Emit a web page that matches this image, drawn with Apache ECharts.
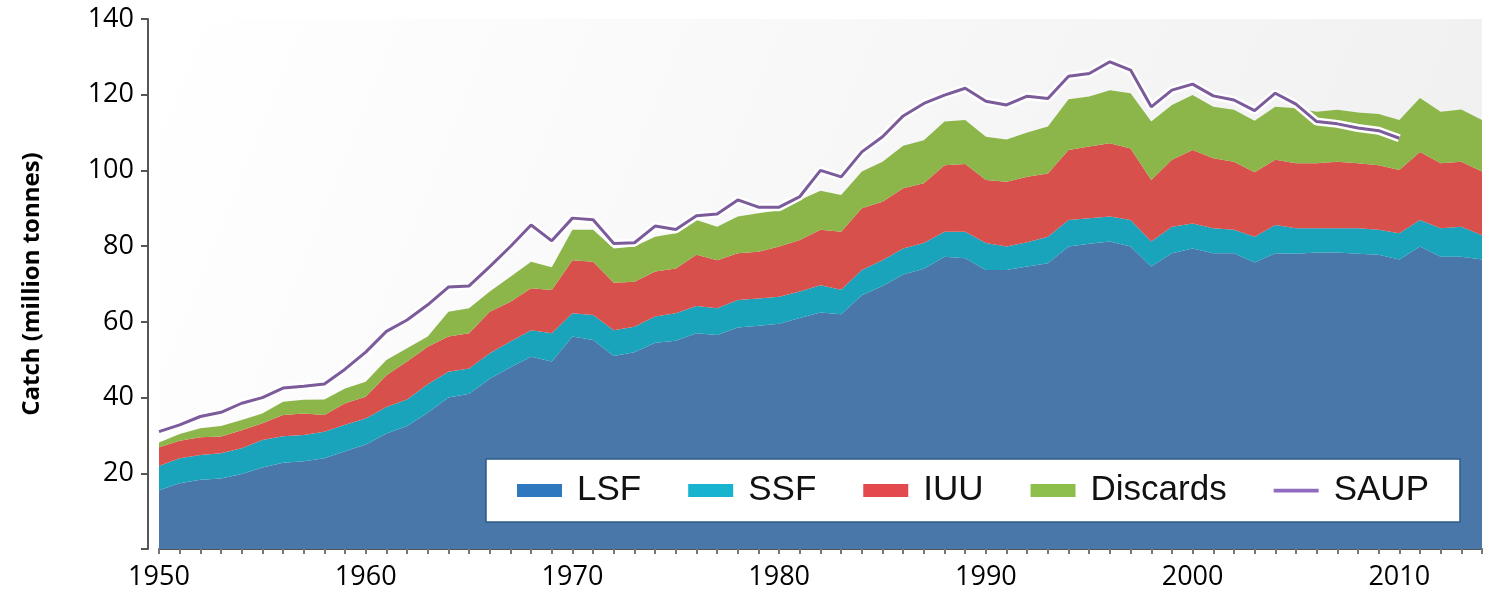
<!DOCTYPE html>
<html>
<head>
<meta charset="utf-8">
<script src="https://cdn.jsdelivr.net/npm/echarts@6/dist/echarts.min.js"></script>
<style>
  html, body { margin: 0; padding: 0; background: #fff; }
  #main { width: 1485px; height: 595px; }
</style>
</head>
<body>
<div id="main"></div>
<script>
// years 1950 - 2014
var years = [];
for (var y = 1950; y <= 2014; y++) years.push(String(y));

// million tonnes
var lsf = [15.5, 17.4, 18.3, 18.6, 19.8, 21.5, 22.8, 23.2, 24.0, 25.8,
           27.6, 30.5, 32.5, 36.0, 40.0, 41.0, 45.0, 48.0, 50.8, 49.5,
           56.1, 55.2, 51.0, 52.0, 54.5, 55.0, 57.0, 56.5, 58.5, 59.0,
           59.5, 61.0, 62.5, 62.0, 67.0, 69.5, 72.5, 74.0, 77.2, 76.8,
           73.7, 73.7, 74.6, 75.5, 79.9, 80.6, 81.2, 79.9, 74.6, 78.1,
           79.4, 78.1, 78.1, 75.7, 78.1, 78.0, 78.3, 78.3, 78.0, 77.7,
           76.5, 79.9, 77.2, 77.2, 76.5];
var ssf = [6.4, 6.6, 6.5, 6.7, 6.8, 7.3, 7.0, 6.9, 7.0, 7.0,
           6.9, 7.0, 7.0, 7.5, 6.8, 6.7, 6.7, 6.8, 7.0, 7.5,
           6.2, 6.6, 6.8, 6.7, 6.9, 7.3, 7.2, 7.1, 7.3, 7.2,
           7.1, 7.0, 7.2, 6.5, 6.7, 6.8, 6.9, 6.8, 6.6, 7.0,
           7.1, 6.2, 6.4, 7.0, 7.0, 6.8, 6.6, 7.0, 6.6, 7.0,
           6.6, 6.6, 6.2, 6.8, 7.5, 6.7, 6.4, 6.4, 6.7, 6.6,
           6.9, 7.0, 7.5, 7.9, 6.4];
var iuu = [5.0, 4.6, 4.7, 4.4, 4.8, 4.4, 5.6, 5.7, 4.4, 5.7,
           5.7, 8.4, 10.0, 9.9, 9.3, 9.3, 11.0, 10.5, 11.1, 11.4,
           14.0, 14.1, 12.5, 11.9, 11.9, 11.8, 13.5, 12.7, 12.3, 12.3,
           13.3, 13.6, 14.6, 15.3, 16.3, 15.4, 15.9, 15.8, 17.6, 17.9,
           16.7, 17.1, 17.3, 16.7, 18.5, 18.9, 19.4, 18.9, 16.3, 17.7,
           19.4, 18.5, 18.0, 17.0, 17.2, 17.2, 17.2, 17.6, 17.2, 17.1,
           16.7, 18.0, 17.2, 17.2, 16.8];
var discards = [1.2, 1.8, 2.4, 2.8, 2.7, 2.6, 3.5, 3.6, 4.1, 3.9,
                4.0, 4.0, 3.5, 2.7, 6.6, 6.6, 5.3, 6.6, 7.0, 6.0,
                8.0, 8.4, 9.1, 9.3, 9.2, 9.3, 9.2, 8.8, 9.7, 10.2,
                9.6, 10.6, 10.3, 9.7, 9.7, 10.6, 11.2, 11.4, 11.5, 11.6,
                11.4, 11.2, 11.7, 12.4, 13.4, 13.2, 14.0, 14.6, 15.4, 14.5,
                14.5, 13.6, 13.7, 13.6, 14.0, 14.5, 13.6, 13.7, 13.4, 13.5,
                13.2, 14.2, 13.6, 13.8, 13.6];
// SAUP reconstructed catch, 1950 - 2010
var saup = [31.0, 32.8, 35.0, 36.1, 38.5, 40.0, 42.5, 43.0, 43.6, 47.5,
            52.0, 57.5, 60.5, 64.5, 69.2, 69.5, 74.6, 79.9, 85.6, 81.4,
            87.4, 87.0, 80.7, 80.9, 85.3, 84.4, 88.0, 88.5, 92.2, 90.3,
            90.3, 93.1, 100.0, 98.3, 104.9, 108.9, 114.4, 117.7, 119.9, 121.7,
            118.3, 117.3, 119.6, 119.0, 124.9, 125.6, 128.7, 126.5, 116.8, 121.2,
            122.8, 119.7, 118.6, 115.8, 120.4, 117.5, 112.9, 112.3, 111.2, 110.5,
            108.5];

var yTicks = [0, 20, 40, 60, 80, 100, 120, 140];

var chart = echarts.init(document.getElementById('main'));

function area(name, data, color) {
  return {
    name: name,
    type: 'line',
    stack: 'catch',
    data: data,
    symbol: 'none',
    lineStyle: { width: 0 },
    areaStyle: { color: color, opacity: 1 },
    itemStyle: { color: color },
    z: 2
  };
}

var option = {
  animation: false,
  backgroundColor: '#ffffff',
  textStyle: { fontFamily: 'Open Sans' },
  grid: {
    left: 159, right: 3, top: 19, bottom: 46,
    show: true,
    borderWidth: 0,
    backgroundColor: new echarts.graphic.LinearGradient(0, 0, 1, 1, [
      { offset: 0, color: '#ffffff' },
      { offset: 1, color: '#efefef' }
    ])
  },
  legend: {
    left: 486,
    top: 459,
    padding: [14, 31, 14, 31],
    itemGap: 47,
    itemWidth: 45,
    itemHeight: 13,
    backgroundColor: '#ffffff',
    borderColor: '#2d5c88',
    borderWidth: 1.5,
    textStyle: {
      fontFamily: 'Liberation Sans',
      fontSize: 35,
      color: '#111111',
      padding: [0, 0, 0, 10]
    },
    data: [
      { name: 'LSF', icon: 'rect', itemStyle: { color: '#2e78bf' } },
      { name: 'SSF', icon: 'rect', itemStyle: { color: '#17b3cf' } },
      { name: 'IUU', icon: 'rect', itemStyle: { color: '#e24a4e' } },
      { name: 'Discards', icon: 'rect', itemStyle: { color: '#8cbf4b' } },
      { name: 'SAUP', icon: 'path://M0,0H48V4H0Z', itemStyle: { color: '#8f6cbf' } }
    ]
  },
  xAxis: {
    type: 'category',
    data: years,
    boundaryGap: false,
    axisLine: { lineStyle: { color: '#555555', width: 2 } },
    axisTick: {
      show: true,
      interval: 0,
      length: 5,
      lineStyle: { color: '#777777', width: 2 }
    },
    axisLabel: {
      interval: function (i, v) { return Number(v) % 10 === 0; },
      fontFamily: 'Open Sans',
      fontSize: 27,
      color: '#000000',
      margin: 15
    },
    splitLine: { show: false }
  },
  yAxis: {
    type: 'value',
    min: yTicks[0],
    max: yTicks[yTicks.length - 1],
    interval: 20,
    offset: 11,
    name: 'Catch (million tonnes)',
    nameLocation: 'middle',
    nameRotate: 90,
    nameGap: 104,
    nameTextStyle: {
      fontFamily: 'Open Sans',
      fontWeight: 'bold',
      fontSize: 24,
      color: '#000000'
    },
    axisLine: { show: true, lineStyle: { color: '#555555', width: 2 } },
    axisTick: { show: true, length: 7, lineStyle: { color: '#555555', width: 2 } },
    axisLabel: {
      fontFamily: 'Open Sans',
      fontSize: 27,
      color: '#000000',
      margin: 14,
      formatter: function (v) { return v === 0 ? '' : v; }
    },
    splitLine: { show: false }
  },
  series: [
    area('LSF', lsf, '#4a77aa'),
    area('SSF', ssf, '#19a4bc'),
    area('IUU', iuu, '#d8504c'),
    area('Discards', discards, '#8db64a'),
    {
      name: 'SAUP halo',
      type: 'line',
      data: saup,
      symbol: 'none',
      silent: true,
      lineStyle: { color: '#ffffff', width: 8 },
      z: 3
    },
    {
      name: 'SAUP',
      type: 'line',
      data: saup,
      symbol: 'none',
      lineStyle: { color: '#7c5b9b', width: 3 },
      itemStyle: { color: '#8f6cbf' },
      z: 4
    }
  ]
};

chart.setOption(option);
</script>
</body>
</html>
